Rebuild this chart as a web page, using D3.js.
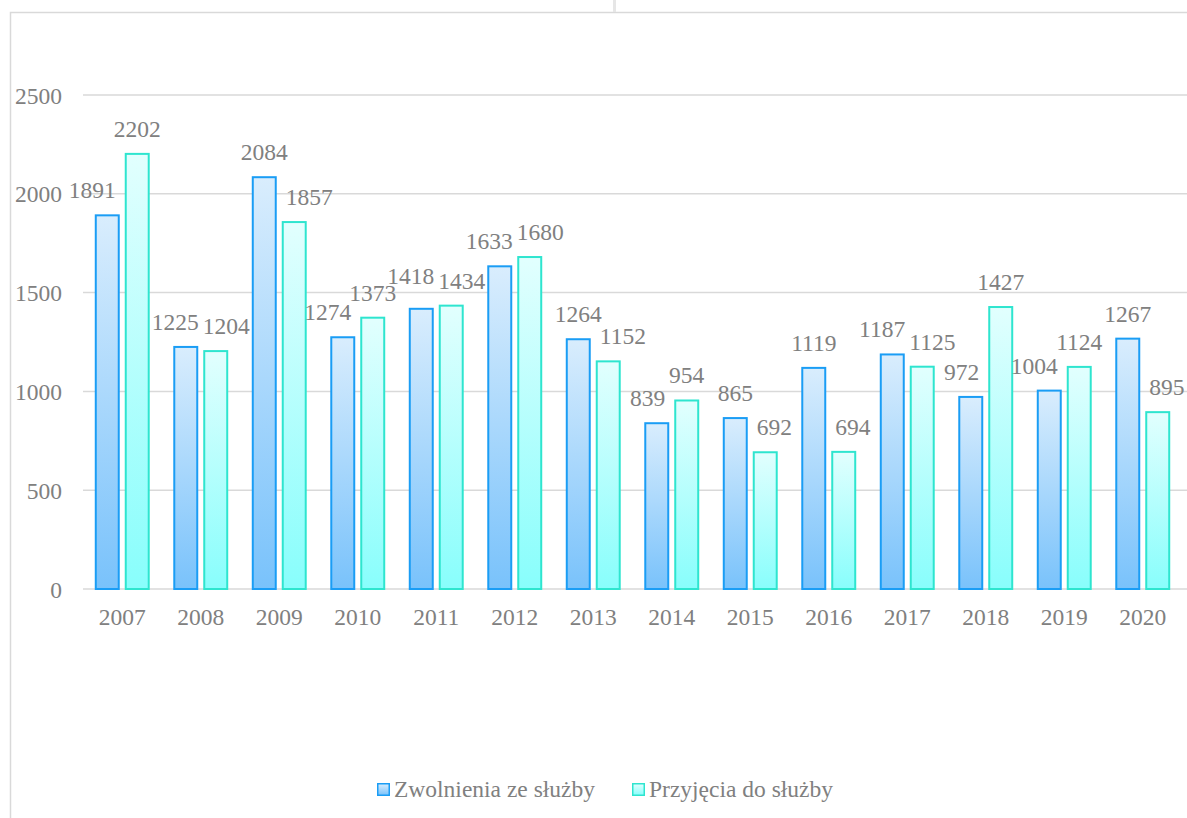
<!DOCTYPE html>
<html>
<head>
<meta charset="utf-8">
<script src="https://cdn.jsdelivr.net/npm/d3@7"></script>
<style>
  html, body { margin: 0; padding: 0; background: #ffffff; }
  svg { display: block; }
  text { font-family: "Liberation Serif", "Times New Roman", serif; fill: #808080; }
</style>
</head>
<body>
<svg id="chart" width="1187" height="818"></svg>
<script>
// Police service staffing: dismissals vs. admissions per year
const years = ["2007","2008","2009","2010","2011","2012","2013","2014","2015","2016","2017","2018","2019","2020"];
const dismissals = [1891, 1225, 2084, 1274, 1418, 1633, 1264, 839, 865, 1119, 1187, 972, 1004, 1267];
const admissions = [2202, 1204, 1857, 1373, 1434, 1680, 1152, 954, 692, 694, 1125, 1427, 1124, 895];
const seriesNames = ["Zwolnienia ze służby", "Przyjęcia do służby"];
const yTicks = [0, 500, 1000, 1500, 2000, 2500];

const W = 1187, H = 818;
const plot = { left: 83, right: 1182, top: 95, bottom: 589 };
const fontSize = 23.5;

const svg = d3.select("#chart");

// chart frame
svg.append("rect")
  .attr("x", 10.5).attr("y", 12.5)
  .attr("width", W + 20).attr("height", H + 20)
  .attr("fill", "none").attr("stroke", "#d9d9d9").attr("stroke-width", 1.5);
svg.append("rect")
  .attr("x", 613).attr("y", 0).attr("width", 3).attr("height", 12)
  .attr("fill", "#e6e6e6");

// gradients for the two series
const defs = svg.append("defs");
const palettes = [
  { id: "gradBlue", top: "#d9edfd", bottom: "#79c2fb", stroke: "#1a9df5" },
  { id: "gradCyan", top: "#e2fffe", bottom: "#88fefc", stroke: "#2ee5cf" }
];
palettes.forEach(p => {
  const g = defs.append("linearGradient").attr("id", p.id)
    .attr("x1", 0).attr("y1", 0).attr("x2", 0).attr("y2", 1);
  g.append("stop").attr("offset", "0%").attr("stop-color", p.top);
  g.append("stop").attr("offset", "100%").attr("stop-color", p.bottom);
});

const y = d3.scaleLinear().domain([0, 2500]).range([plot.bottom, plot.top]);
const x0 = d3.scaleBand().domain(years).range([plot.left, plot.right])
  .paddingInner(0.3).paddingOuter(0.15);
const x1 = d3.scaleBand().domain([0, 1]).range([0, x0.bandwidth()]).paddingInner(1 / 6);

// gridlines
svg.append("g").selectAll("line").data(yTicks).join("line")
  .attr("x1", plot.left).attr("x2", W)
  .attr("y1", d => y(d)).attr("y2", d => y(d))
  .attr("stroke", "#d9d9d9").attr("stroke-width", 1.5);

// y axis labels
const yAxis = d3.axisLeft(y).tickValues(yTicks).tickSize(0).tickPadding(0).tickFormat(d3.format("d"));
const gy = svg.append("g").attr("transform", "translate(62,0)").call(yAxis);
gy.select(".domain").remove();
gy.selectAll("text")
  .attr("font-size", fontSize).attr("fill", "#808080")
  .attr("dy", "0.34em");

// x axis labels
const xAxis = d3.axisBottom(x0).tickSize(0).tickPadding(0);
const gx = svg.append("g").attr("transform", "translate(0,625)").call(xAxis);
gx.select(".domain").remove();
gx.selectAll("text")
  .attr("font-size", fontSize).attr("fill", "#808080")
  .attr("dy", 0);
gy.attr("font-family", null);
gx.attr("font-family", null);

// bars
const rows = years.map((yr, i) => ({ year: yr, vals: [dismissals[i], admissions[i]] }));
const groups = svg.append("g").selectAll("g").data(rows).join("g")
  .attr("transform", d => `translate(${x0(d.year)},0)`);
groups.selectAll("rect").data(d => d.vals.map((v, s) => ({ v, s }))).join("rect")
  .attr("x", d => x1(d.s) + 1)
  .attr("width", x1.bandwidth() - 2)
  .attr("y", d => y(d.v))
  .attr("height", d => y(0) - y(d.v))
  .attr("fill", d => `url(#${palettes[d.s].id})`)
  .attr("stroke", d => palettes[d.s].stroke)
  .attr("stroke-width", 2);

// value labels, nudged to stay clear of neighbouring bars and labels
const labelLayer = svg.append("g");
const capH = 16, margin = 9;
const allLabels = [];
rows.forEach(r => {
  const gx0 = x0(r.year);
  const bars = [0, 1].map(s => ({
    x0: gx0 + x1(s), x1: gx0 + x1(s) + x1.bandwidth(), top: y(r.vals[s])
  }));
  const labels = [0, 1].map(s => {
    const t = labelLayer.append("text")
      .attr("font-size", fontSize).attr("text-anchor", "middle")
      .text(r.vals[s]);
    const w = t.node().getComputedTextLength();
    return { t, w, cx: (bars[s].x0 + bars[s].x1) / 2, base: bars[s].top - 17 };
  });
  // clear the sibling bar
  labels.forEach((L, s) => {
    const other = bars[1 - s];
    const left = L.cx - L.w / 2, right = L.cx + L.w / 2;
    if (L.base > other.top && right > other.x0 && left < other.x1) {
      if (s === 0) L.cx = Math.min(L.cx, other.x0 - margin - L.w / 2);
      else L.cx = Math.max(L.cx, other.x1 + margin + L.w / 2);
    }
  });
  // push overlapping labels of the pair apart
  const a = labels[0], b = labels[1];
  const vOverlap = Math.min(a.base, b.base) > Math.max(a.base, b.base) - capH;
  const hOverlap = (a.cx + a.w / 2 + 4) - (b.cx - b.w / 2);
  if (vOverlap && hOverlap > 0) {
    a.cx -= hOverlap / 2;
    b.cx += hOverlap / 2;
  }
  allLabels.push(a, b);
});
// labels of adjacent years that still collide: lift the higher one
for (let i = 1; i < allLabels.length; i++) {
  const p = allLabels[i - 1], q = allLabels[i];
  const hit = (p.cx + p.w / 2 + 2) > (q.cx - q.w / 2) &&
              Math.min(p.base, q.base) > Math.max(p.base, q.base) - capH;
  if (hit) {
    if (q.base <= p.base) q.base = p.base - capH - 1;
    else p.base = q.base - capH - 1;
  }
}
allLabels.forEach(L => L.t.attr("x", L.cx).attr("y", L.base));

// legend
const legend = svg.append("g").attr("transform", "translate(0,797)");
let lx = 377;
seriesNames.forEach((name, s) => {
  legend.append("rect")
    .attr("x", lx + 0.75).attr("y", -13.25).attr("width", 11.5).attr("height", 11.5)
    .attr("fill", `url(#${palettes[s].id})`)
    .attr("stroke", palettes[s].stroke).attr("stroke-width", 1.5);
  const t = legend.append("text")
    .attr("x", lx + 17).attr("y", 0)
    .attr("font-size", fontSize)
    .text(name);
  lx += 17 + t.node().getComputedTextLength() + 37;
});
</script>
</body>
</html>
